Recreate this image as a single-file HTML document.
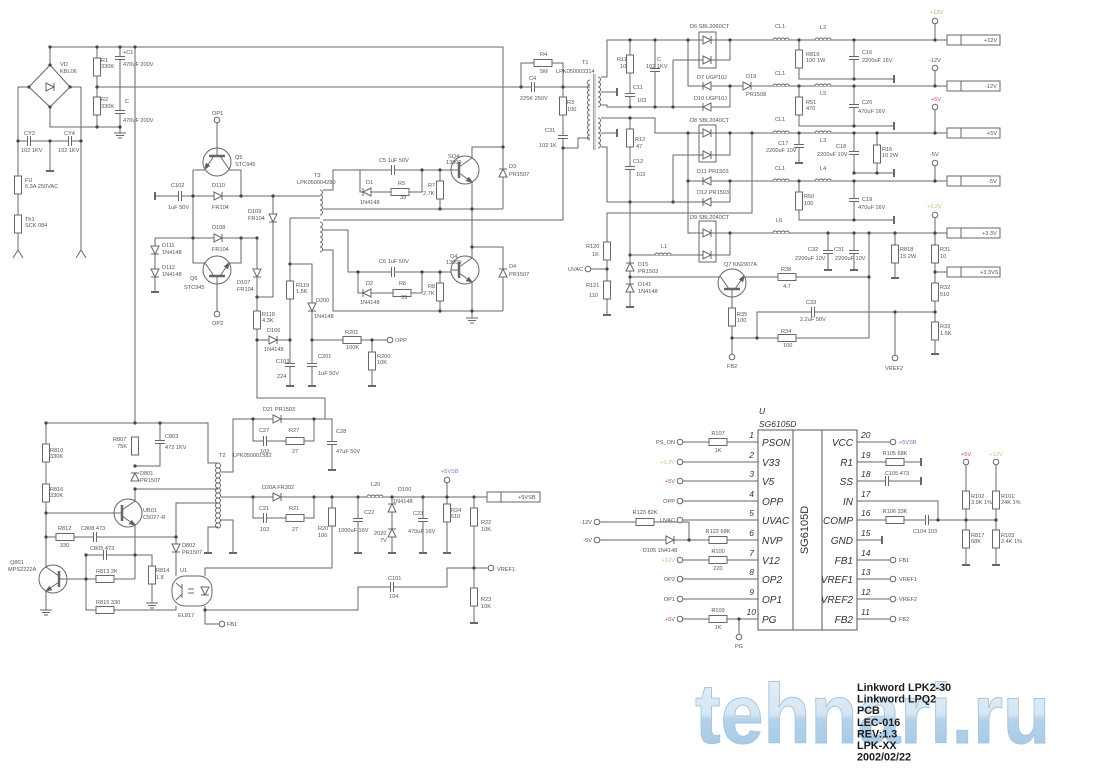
<!DOCTYPE html>
<html><head><meta charset="utf-8"><style>
html,body{margin:0;padding:0;background:#fff}
svg{display:block}
.t{font-family:"Liberation Sans",sans-serif;font-size:5.6px;fill:#555}
.p{font-family:"Liberation Sans",sans-serif;font-size:10px;font-style:italic;fill:#333}
.n{font-family:"Liberation Sans",sans-serif;font-size:8.5px;font-style:italic;fill:#333}
.ti{font-family:"Liberation Sans",sans-serif;font-size:10.8px;font-weight:bold;fill:#1c1c1c}
</style></head><body>
<svg width="1100" height="772" viewBox="0 0 1100 772" xmlns="http://www.w3.org/2000/svg">
<defs>
<g id="rv"><rect x="-3.5" y="-9" width="7" height="18" fill="#fff"/></g>
<g id="rh"><rect x="-9" y="-3.5" width="18" height="7" fill="#fff"/></g>
<g id="dr"><path d="M-4 -4L4 0L-4 4Z" fill="#fff"/><path d="M4 -4V4"/></g>
<g id="dl"><path d="M4 -4L-4 0L4 4Z" fill="#fff"/><path d="M-4 -4V4"/></g>
<g id="du"><path d="M-4 4L0 -4L4 4Z" fill="#fff"/><path d="M-4 -4H4"/></g>
<g id="dd"><path d="M-4 -4L0 4L4 -4Z" fill="#fff"/><path d="M-4 4H4"/></g>
<g id="ch"><rect x="-1.5" y="-2" width="3" height="4" fill="#fff" stroke="none"/><path d="M-1.5 -5V5M1.5 -5V5"/></g>
<g id="cv"><rect x="-2" y="-1.5" width="4" height="3" fill="#fff" stroke="none"/><path d="M-5 -1.5H5M-5 1.5H5"/></g>
<g id="lh"><rect x="-8" y="-3" width="16" height="3" fill="#fff" stroke="none"/><path d="M-8 0a2 2 0 0 1 4 0a2 2 0 0 1 4 0a2 2 0 0 1 4 0a2 2 0 0 1 4 0"/></g>
<g id="gh"><path d="M-4 0H4" stroke-width="2"/></g>
<g id="gv"><path d="M0 -4V4" stroke-width="2"/></g>
<g id="g3"><path d="M-6 0H6M-4 2.5H4M-2 5H2"/></g>
<g id="tm"><circle r="2.8" fill="#fff"/></g>
<g id="dt"><circle r="1.6" fill="#444" stroke="none"/></g>
<g id="npn"><circle r="14" fill="#fff"/><path d="M-14 0H-6"/><path d="M-6 -8V8" stroke-width="2.5"/><path d="M-6 -3L7 -12M-6 3L7 12"/><path d="M7 12l-5.5 -1.2l2.2 -3.2z" fill="#555"/></g>
<linearGradient id="lg" x1="0" y1="0" x2="0" y2="1">
<stop offset="0" stop-color="#e9f1f8"/><stop offset="0.5" stop-color="#d6e6f2"/><stop offset="0.56" stop-color="#b4d2ea"/><stop offset="1" stop-color="#a2c6e4"/>
</linearGradient>
</defs>

<!-- logo -->
<text x="695" y="743" font-family="Liberation Sans,sans-serif" font-weight="bold" font-size="84" textLength="355" lengthAdjust="spacingAndGlyphs" fill="url(#lg)" stroke="#a6c5de" stroke-width="1">tehnari.ru</text>

<g fill="none" stroke="#676767" stroke-width="1">
<path d="M50 47H503V209M472 247H503V311
M50 47V65M50 65L29 87L50 107L70 87Z
M29 87H18V250M70 87H81V250M50 107V127H120
M97 47V127M120 47V133M135 47V423
M97 87H563M521 87V63H563V87M563 87H590M563 87V148H578V138H590
M18 250l-5 8M18 250l5 8M81 250l-5 8M81 250l5 8
M18 141H81M50 141V171
M217 123V148M193 170H205M229 170H241
M193 170V263H205M229 263H241V238M241 170V196
M155 196H320M273 196V297H257M155 238H257M257 238V398H325V419M155 238V292
M217 284V311M290 218H320M290 218V386M290 264H312V386
M257 340H290M312 340H387M372 340V386
M323 190H333V170H451M360 170V192H422V170M440 170V209
M323 209H503M323 220H563V148
M323 230H348V272H451M358 272V293H422V272M440 272V311
M323 250H333V311H503M472 158V147H503M472 182V258M472 282V318
M601 77H607V40H699M601 92H617M601 105H607V107H730
M630 40V107M655 40V107M673 60V107M673 60H699
M688 40V86H947M716 40H947M716 60H730V40M730 86V107
M601 118H655V133H699M601 133H617M601 147H607V202H730
M630 118V307M673 155V202M673 155H699
M716 133H947M716 155H730V133
M688 133V233H699M688 181H730V202M730 181H947
M752 133V213H607V315
M716 233H947M716 255H730V233M630 255H699M630 277H720
M591 269H607M744 277H869M732 297V354
M732 338H869V233M757 338V312H935M895 312V355M935 233V354M935 272H947
M799 40V79H894M854 40V79M799 86V126H894M854 86V126
M799 133V163M854 133V173H894M877 133V173
M799 181V220H894M854 181V220
M828 233V270M854 233V270M895 233V278
M935 24V40M935 71V86M935 110V133M935 166V181M935 218V233
M46 423H208V463H218M46 423V567M46 591V610M46 513H114M46 537H176
M135 501V489M135 525V579M135 466H160V423M135 489H218
M176 537V503H218M176 537V576M135 555H86V610H176V606M135 555H152V603M67 579H135
M218 527H208V553M221 520H233V553
M221 472H233V419H332V470M253 419V441H314V419
M221 497H487M253 497V518H314V497M205 576V568H332V497
M358 497V553M392 497V553M423 497V553M447 483V553
M474 497V623M474 568H488
M205 606V610H358V587H447V568H474M205 610V624H219
M683 442H758M683 462H758M683 481H758M683 501H758M683 520H758M600 540H758M683 560H758M683 579H758M683 599H758M683 619H758M600 522H689V540M739 619V634
M857 442H890M857 462H921M857 481H921M857 501H938V520M857 520H996M857 540H882M857 560H890M857 579H890M857 599H890M857 619H890
M966 465V565M996 465V565"/>

<!-- transformer coils -->
<path d="M320 190a2.5 2.5 0 0 1 0 5a2.5 2.5 0 0 1 0 5a2.5 2.5 0 0 1 0 5a2.5 2.5 0 0 1 0 5a2.5 2.5 0 0 1 0 5M320 222a2.5 2.5 0 0 1 0 5a2.5 2.5 0 0 1 0 5a2.5 2.5 0 0 1 0 5a2.5 2.5 0 0 1 0 5a2.5 2.5 0 0 1 0 5a2.5 2.5 0 0 1 0 5"/>
<path d="M590 80a2.5 2.5 0 0 0 0 5a2.5 2.5 0 0 0 0 5a2.5 2.5 0 0 0 0 5a2.5 2.5 0 0 0 0 5a2.5 2.5 0 0 0 0 5a2.5 2.5 0 0 0 0 5a2.5 2.5 0 0 0 0 5a2.5 2.5 0 0 0 0 5a2.5 2.5 0 0 0 0 5a2.5 2.5 0 0 0 0 5a2.5 2.5 0 0 0 0 5a2.5 2.5 0 0 0 0 5"/>
<path d="M598 77a2.5 2.5 0 0 1 0 5a2.5 2.5 0 0 1 0 5a2.5 2.5 0 0 1 0 5a2.5 2.5 0 0 1 0 5a2.5 2.5 0 0 1 0 5a2.5 2.5 0 0 1 0 5M598 118a2.5 2.5 0 0 1 0 5a2.5 2.5 0 0 1 0 5a2.5 2.5 0 0 1 0 5a2.5 2.5 0 0 1 0 5a2.5 2.5 0 0 1 0 5a2.5 2.5 0 0 1 0 5"/>
<path d="M593.5 74V150M595 74V150" stroke-width="0.6"/>
<path d="M218 463a2.5 2.5 0 0 1 0 5a2.5 2.5 0 0 1 0 5a2.5 2.5 0 0 1 0 5a2.5 2.5 0 0 1 0 5a2.5 2.5 0 0 1 0 5a2.5 2.5 0 0 1 0 5a2.5 2.5 0 0 1 0 5a2.5 2.5 0 0 1 0 5a2.5 2.5 0 0 1 0 5a2.5 2.5 0 0 1 0 5a2.5 2.5 0 0 1 0 5a2.5 2.5 0 0 1 0 5a2.5 2.5 0 0 1 0 5"/>
<path d="M218 463a2.5 2.5 0 0 0 0 5a2.5 2.5 0 0 0 0 5a2.5 2.5 0 0 0 0 5a2.5 2.5 0 0 0 0 5a2.5 2.5 0 0 0 0 5a2.5 2.5 0 0 0 0 5a2.5 2.5 0 0 0 0 5a2.5 2.5 0 0 0 0 5a2.5 2.5 0 0 0 0 5a2.5 2.5 0 0 0 0 5a2.5 2.5 0 0 0 0 5a2.5 2.5 0 0 0 0 5a2.5 2.5 0 0 0 0 5"/>

<!-- diode boxes & connectors -->
<rect x="699" y="32" width="17" height="36" fill="#fff"/>
<rect x="699" y="125" width="17" height="37" fill="#fff"/>
<rect x="699" y="221" width="17" height="41" fill="#fff"/>
<path d="M699 40H716M699 60H716M699 133H716M699 155H716M699 233H716M699 255H716"/>
<g fill="#fff">
<rect x="947" y="35" width="53" height="10"/><rect x="947" y="81" width="53" height="10"/><rect x="947" y="128" width="53" height="10"/>
<rect x="947" y="176" width="53" height="10"/><rect x="947" y="228" width="53" height="10"/><rect x="947" y="267" width="53" height="10"/>
<rect x="487" y="492" width="53" height="10"/>
</g>
<path d="M961 35V45M961 81V91M961 128V138M961 176V186M961 228V238M961 267V277M501 492V502"/>

<!-- chip -->
<rect x="758" y="430" width="99" height="200" fill="#fff" stroke="#555"/>
<path d="M793 430V630M822 430V630" stroke="#555"/>

<!-- optocoupler -->
<rect x="172" y="576" width="40" height="30" rx="13" fill="#fff"/>
<path d="M182 584V598M182 588L176 583M182 594L176 600M188 589H194M188 593H194" />
<use href="#dd" x="205" y="591"/>

<!-- transistors -->
<use href="#npn" transform="translate(465,170)"/>
<use href="#npn" transform="translate(465,270)"/>
<use href="#npn" transform="translate(128,513)"/>
<use href="#npn" transform="translate(53,579) scale(-1,1)"/>
<use href="#npn" transform="translate(217,162) rotate(90)"/>
<use href="#npn" transform="translate(217,270) rotate(-90)"/>
<use href="#npn" transform="translate(732,283) rotate(-90)"/>

<!-- bridge diode -->
<use href="#dr" x="50" y="87"/>

<!-- resistors vertical -->
<use href="#rv" x="97" y="67"/><use href="#rv" x="97" y="106"/><use href="#rv" x="18" y="185"/><use href="#rv" x="18" y="224"/>
<use href="#rv" x="563" y="106"/><use href="#rv" x="630" y="64"/><use href="#rv" x="630" y="138"/><use href="#rv" x="607" y="251"/><use href="#rv" x="607" y="290"/>
<use href="#rv" x="440" y="190"/><use href="#rv" x="440" y="292"/><use href="#rv" x="257" y="320"/><use href="#rv" x="290" y="290"/><use href="#rv" x="372" y="361"/>
<use href="#rv" x="799" y="59"/><use href="#rv" x="799" y="106"/><use href="#rv" x="877" y="154"/><use href="#rv" x="799" y="201"/>
<use href="#rv" x="895" y="254"/><use href="#rv" x="935" y="254"/><use href="#rv" x="935" y="292"/><use href="#rv" x="935" y="331"/><use href="#rv" x="732" y="317"/>
<use href="#rv" x="46" y="453"/><use href="#rv" x="46" y="493"/><use href="#rv" x="135" y="446"/><use href="#rv" x="152" y="575"/>
<use href="#rv" x="332" y="517"/><use href="#rv" x="447" y="513"/><use href="#rv" x="474" y="517"/><use href="#rv" x="474" y="597"/>
<use href="#rv" x="966" y="500"/><use href="#rv" x="996" y="500"/><use href="#rv" x="966" y="539"/><use href="#rv" x="996" y="539"/>
<!-- resistors horizontal -->
<use href="#rh" x="543" y="63"/><use href="#rh" x="400" y="192"/><use href="#rh" x="402" y="293"/><use href="#rh" x="352" y="340"/>
<use href="#rh" x="787" y="277"/><use href="#rh" x="787" y="338"/><use href="#rh" x="65" y="537"/><use href="#rh" x="105" y="579"/><use href="#rh" x="105" y="610"/>
<use href="#rh" x="295" y="441"/><use href="#rh" x="295" y="518"/>
<use href="#rh" x="718" y="442"/><use href="#rh" x="718" y="540"/><use href="#rh" x="718" y="560"/><use href="#rh" x="718" y="619"/><use href="#rh" x="645" y="522"/>
<use href="#rh" x="895" y="462"/><use href="#rh" x="895" y="520"/>

<!-- diodes -->
<use href="#du" x="503" y="173"/><use href="#du" x="503" y="273"/>
<use href="#dl" x="367" y="192"/><use href="#dl" x="367" y="293"/>
<use href="#dr" x="218" y="196"/><use href="#dr" x="218" y="238"/>
<use href="#dd" x="273" y="218"/><use href="#dd" x="257" y="273"/>
<use href="#dd" x="155" y="250"/><use href="#dd" x="155" y="273"/>
<use href="#dr" x="273" y="340"/><use href="#dd" x="312" y="307"/>
<use href="#dr" x="707" y="40"/><use href="#dr" x="707" y="60"/><use href="#dl" x="707" y="86"/><use href="#dl" x="707" y="107"/>
<use href="#dr" x="707" y="133"/><use href="#dr" x="707" y="155"/><use href="#dl" x="707" y="181"/><use href="#dl" x="707" y="202"/>
<use href="#dr" x="707" y="233"/><use href="#dr" x="707" y="255"/><use href="#dr" x="747" y="86"/>
<use href="#du" x="630" y="267"/><use href="#du" x="630" y="288"/>
<use href="#du" x="135" y="477"/><use href="#dd" x="176" y="548"/>
<use href="#dr" x="277" y="419"/><use href="#dr" x="277" y="497"/>
<use href="#du" x="392" y="508"/><use href="#du" x="392" y="533"/>
<use href="#dr" x="670" y="540"/>

<!-- capacitors -->
<use href="#ch" x="29" y="141"/><use href="#ch" x="70" y="141"/><use href="#ch" x="180" y="196"/><use href="#ch" x="393" y="170"/><use href="#ch" x="393" y="272"/>
<use href="#ch" x="533" y="87"/><use href="#ch" x="265" y="441"/><use href="#ch" x="265" y="518"/><use href="#ch" x="95" y="537"/><use href="#ch" x="105" y="555"/>
<use href="#ch" x="392" y="587"/><use href="#ch" x="813" y="312"/><use href="#ch" x="887" y="481"/><use href="#ch" x="927" y="520"/>
<use href="#cv" x="120" y="58"/><use href="#cv" x="120" y="112"/><use href="#cv" x="563" y="137"/><use href="#cv" x="630" y="95"/><use href="#cv" x="655" y="70"/>
<use href="#cv" x="630" y="168"/><use href="#cv" x="290" y="365"/><use href="#cv" x="312" y="365"/><use href="#cv" x="854" y="58"/><use href="#cv" x="854" y="106"/>
<use href="#cv" x="799" y="146"/><use href="#cv" x="854" y="153"/><use href="#cv" x="854" y="200"/><use href="#cv" x="828" y="252"/><use href="#cv" x="854" y="252"/>
<use href="#cv" x="160" y="442"/><use href="#cv" x="332" y="443"/><use href="#cv" x="358" y="520"/><use href="#cv" x="423" y="520"/>

<!-- inductors -->
<use href="#lh" x="781" y="40"/><use href="#lh" x="781" y="86"/><use href="#lh" x="781" y="133"/><use href="#lh" x="781" y="181"/>
<use href="#lh" x="823" y="40"/><use href="#lh" x="823" y="86"/><use href="#lh" x="823" y="133"/><use href="#lh" x="823" y="181"/>
<use href="#lh" x="781" y="233"/><use href="#lh" x="663" y="255"/><use href="#lh" x="375" y="497"/>

<!-- grounds -->
<use href="#g3" x="120" y="133"/><use href="#g3" x="472" y="318"/><use href="#g3" x="152" y="603"/><use href="#g3" x="46" y="610"/>
<use href="#gh" x="50" y="171"/><use href="#gh" x="155" y="292"/><use href="#gh" x="290" y="386"/><use href="#gh" x="312" y="386"/><use href="#gh" x="372" y="386"/>
<use href="#gh" x="630" y="307"/><use href="#gh" x="607" y="315"/><use href="#gh" x="799" y="163"/><use href="#gh" x="828" y="270"/><use href="#gh" x="854" y="270"/>
<use href="#gh" x="895" y="278"/><use href="#gh" x="935" y="354"/><use href="#gh" x="208" y="553"/><use href="#gh" x="233" y="553"/><use href="#gh" x="332" y="470"/>
<use href="#gh" x="358" y="553"/><use href="#gh" x="392" y="553"/><use href="#gh" x="423" y="553"/><use href="#gh" x="447" y="553"/><use href="#gh" x="474" y="623"/>
<use href="#gh" x="966" y="565"/><use href="#gh" x="996" y="565"/>
<use href="#gv" x="155" y="196"/><use href="#gv" x="617" y="92"/><use href="#gv" x="617" y="133"/><use href="#gv" x="894" y="79"/><use href="#gv" x="894" y="126"/>
<use href="#gv" x="894" y="173"/><use href="#gv" x="894" y="220"/><use href="#gv" x="921" y="462"/><use href="#gv" x="921" y="481"/><use href="#gv" x="882" y="540"/>

<!-- terminals -->
<use href="#tm" x="217" y="120"/><use href="#tm" x="217" y="314"/><use href="#tm" x="390" y="340"/><use href="#tm" x="588" y="269"/><use href="#tm" x="732" y="357"/>
<use href="#tm" x="895" y="358"/><use href="#tm" x="935" y="21"/><use href="#tm" x="935" y="68"/><use href="#tm" x="935" y="107"/><use href="#tm" x="935" y="163"/>
<use href="#tm" x="935" y="215"/><use href="#tm" x="447" y="480"/><use href="#tm" x="491" y="568"/><use href="#tm" x="222" y="624"/>
<use href="#tm" x="680" y="442"/><use href="#tm" x="680" y="462"/><use href="#tm" x="680" y="481"/><use href="#tm" x="680" y="501"/><use href="#tm" x="680" y="520"/>
<use href="#tm" x="680" y="560"/><use href="#tm" x="680" y="579"/><use href="#tm" x="680" y="599"/><use href="#tm" x="680" y="619"/>
<use href="#tm" x="597" y="522"/><use href="#tm" x="597" y="540"/><use href="#tm" x="739" y="637"/>
<use href="#tm" x="893" y="442"/><use href="#tm" x="893" y="560"/><use href="#tm" x="893" y="579"/><use href="#tm" x="893" y="599"/><use href="#tm" x="893" y="619"/>
<use href="#tm" x="966" y="462"/><use href="#tm" x="996" y="462"/>
</g>

<!-- dots -->
<g>
<use href="#dt" x="50" y="47"/><use href="#dt" x="97" y="47"/><use href="#dt" x="120" y="47"/><use href="#dt" x="135" y="47"/><use href="#dt" x="97" y="87"/>
<use href="#dt" x="97" y="127"/><use href="#dt" x="120" y="127"/><use href="#dt" x="50" y="65"/><use href="#dt" x="29" y="87"/><use href="#dt" x="70" y="87"/><use href="#dt" x="50" y="107"/>
<use href="#dt" x="18" y="141"/><use href="#dt" x="50" y="141"/><use href="#dt" x="81" y="141"/><use href="#dt" x="521" y="87"/><use href="#dt" x="563" y="87"/><use href="#dt" x="563" y="148"/>
<use href="#dt" x="193" y="196"/><use href="#dt" x="241" y="196"/><use href="#dt" x="273" y="196"/><use href="#dt" x="193" y="238"/><use href="#dt" x="241" y="238"/><use href="#dt" x="257" y="238"/>
<use href="#dt" x="257" y="297"/><use href="#dt" x="257" y="340"/><use href="#dt" x="290" y="340"/><use href="#dt" x="290" y="264"/><use href="#dt" x="312" y="340"/><use href="#dt" x="372" y="340"/>
<use href="#dt" x="422" y="170"/><use href="#dt" x="440" y="170"/><use href="#dt" x="440" y="209"/><use href="#dt" x="472" y="209"/><use href="#dt" x="503" y="147"/><use href="#dt" x="472" y="247"/>
<use href="#dt" x="358" y="272"/><use href="#dt" x="422" y="272"/><use href="#dt" x="440" y="272"/><use href="#dt" x="440" y="311"/><use href="#dt" x="472" y="311"/>
<use href="#dt" x="630" y="40"/><use href="#dt" x="655" y="40"/><use href="#dt" x="688" y="40"/><use href="#dt" x="730" y="40"/><use href="#dt" x="630" y="107"/><use href="#dt" x="655" y="107"/>
<use href="#dt" x="673" y="107"/><use href="#dt" x="730" y="86"/><use href="#dt" x="630" y="118"/><use href="#dt" x="688" y="133"/><use href="#dt" x="730" y="133"/><use href="#dt" x="752" y="133"/>
<use href="#dt" x="630" y="202"/><use href="#dt" x="673" y="202"/><use href="#dt" x="730" y="181"/><use href="#dt" x="688" y="181"/><use href="#dt" x="730" y="233"/><use href="#dt" x="630" y="255"/>
<use href="#dt" x="630" y="277"/><use href="#dt" x="607" y="269"/>
<use href="#dt" x="799" y="40"/><use href="#dt" x="854" y="40"/><use href="#dt" x="935" y="40"/><use href="#dt" x="799" y="86"/><use href="#dt" x="854" y="86"/><use href="#dt" x="935" y="86"/>
<use href="#dt" x="854" y="79"/><use href="#dt" x="854" y="126"/><use href="#dt" x="799" y="133"/><use href="#dt" x="854" y="133"/><use href="#dt" x="877" y="133"/><use href="#dt" x="935" y="133"/>
<use href="#dt" x="877" y="173"/><use href="#dt" x="854" y="173"/><use href="#dt" x="799" y="181"/><use href="#dt" x="854" y="181"/><use href="#dt" x="935" y="181"/><use href="#dt" x="854" y="220"/>
<use href="#dt" x="828" y="233"/><use href="#dt" x="854" y="233"/><use href="#dt" x="869" y="233"/><use href="#dt" x="895" y="233"/><use href="#dt" x="935" y="233"/><use href="#dt" x="935" y="272"/>
<use href="#dt" x="869" y="277"/><use href="#dt" x="732" y="338"/><use href="#dt" x="757" y="338"/><use href="#dt" x="895" y="312"/><use href="#dt" x="935" y="312"/>
<use href="#dt" x="46" y="423"/><use href="#dt" x="135" y="423"/><use href="#dt" x="160" y="423"/><use href="#dt" x="135" y="466"/><use href="#dt" x="135" y="489"/><use href="#dt" x="46" y="513"/>
<use href="#dt" x="46" y="537"/><use href="#dt" x="176" y="537"/><use href="#dt" x="135" y="555"/><use href="#dt" x="86" y="555"/><use href="#dt" x="86" y="579"/>
<use href="#dt" x="253" y="419"/><use href="#dt" x="314" y="419"/><use href="#dt" x="253" y="497"/><use href="#dt" x="314" y="497"/><use href="#dt" x="332" y="497"/><use href="#dt" x="358" y="497"/>
<use href="#dt" x="392" y="497"/><use href="#dt" x="423" y="497"/><use href="#dt" x="447" y="497"/><use href="#dt" x="474" y="497"/><use href="#dt" x="474" y="568"/><use href="#dt" x="205" y="610"/>
<use href="#dt" x="689" y="540"/><use href="#dt" x="739" y="619"/><use href="#dt" x="938" y="520"/><use href="#dt" x="966" y="520"/><use href="#dt" x="996" y="520"/>
</g>

<!-- labels -->
<g class="t">
<text x="60" y="66">VD</text><text x="60" y="73">KBL06</text>
<text x="101" y="62">R1</text><text x="101" y="68">330K</text>
<text x="101" y="101">R2</text><text x="101" y="108">330K</text>
<text x="123" y="54">+C1</text><text x="123" y="66">470uF 200V</text>
<text x="125" y="103">C</text><text x="123" y="122">470uF 200V</text>
<text x="24" y="135">CY3</text><text x="21" y="152">102 1KV</text>
<text x="64" y="135">CY4</text><text x="58" y="152">102 1KV</text>
<text x="25" y="182">FU</text><text x="25" y="188">6.3A 250VAC</text>
<text x="25" y="221">Th1</text><text x="25" y="227">SCK 084</text>
<text x="212" y="115">OP1</text>
<text x="235" y="159">Q5</text><text x="235" y="166">STC945</text>
<text x="171" y="187">C102</text><text x="168" y="209">1uF 50V</text>
<text x="212" y="187">D110</text><text x="212" y="209">FR104</text>
<text x="248" y="213">D109</text><text x="248" y="220">FR104</text>
<text x="212" y="229">D108</text><text x="212" y="251">FR104</text>
<text x="162" y="247">D111</text><text x="162" y="254">1N4148</text>
<text x="162" y="269">D112</text><text x="162" y="276">1N4148</text>
<text x="190" y="280">Q6</text><text x="184" y="289">STC945</text>
<text x="212" y="325">OP2</text>
<text x="237" y="284">D107</text><text x="237" y="291">FR104</text>
<text x="262" y="316">R118</text><text x="262" y="322">4.3K</text>
<text x="296" y="287">R119</text><text x="296" y="293">1.5K</text>
<text x="316" y="302">D200</text><text x="314" y="318">1N4148</text>
<text x="267" y="332">D106</text><text x="264" y="351">1N4148</text>
<text x="345" y="334">R201</text><text x="346" y="349">100K</text>
<text x="377" y="358">R200</text><text x="377" y="364">10K</text>
<text x="395" y="342">OPP</text>
<text x="276" y="363">C103</text><text x="277" y="378">224</text>
<text x="318" y="358">C201</text><text x="318" y="375">1uF 50V</text>
<text x="314" y="177">T3</text><text x="297" y="184">LPK050004280</text>
<text x="379" y="162">C5  1uF 50V</text>
<text x="366" y="184">D1</text><text x="360" y="204">1N4148</text>
<text x="398" y="185">R5</text><text x="400" y="199">39</text>
<text x="428" y="187">R7</text><text x="423" y="195">2.7K</text>
<text x="448" y="158">SQ4</text><text x="446" y="164">13009</text>
<text x="509" y="168">D3</text><text x="509" y="176">PR1507</text>
<text x="379" y="263">C6  1uF 50V</text>
<text x="366" y="285">D2</text><text x="360" y="304">1N4148</text>
<text x="399" y="285">R6</text><text x="401" y="299">39</text>
<text x="428" y="288">R8</text><text x="423" y="295">2.7K</text>
<text x="450" y="258">Q4</text><text x="446" y="264">13009</text>
<text x="509" y="268">D4</text><text x="509" y="276">PR1507</text>
<text x="540" y="56">R4</text><text x="540" y="73">5M</text>
<text x="529" y="80">C4</text><text x="520" y="100">225K 250V</text>
<text x="582" y="64">T1</text><text x="556" y="73">LPK050003314</text>
<text x="567" y="104">R3</text><text x="567" y="111">100</text>
<text x="545" y="132">C31</text><text x="539" y="147">102 1K</text>
<text x="617" y="61">R11</text><text x="620" y="68">10</text>
<text x="657" y="61">C</text><text x="646" y="68">102 1KV</text>
<text x="633" y="89">C11</text><text x="637" y="102">103</text>
<text x="635" y="141">R12</text><text x="636" y="148">47</text>
<text x="633" y="163">C12</text><text x="636" y="176">103</text>
<text x="690" y="28">D6 SBL2060CT</text>
<text x="697" y="79">D7 UGP10J</text>
<text x="694" y="100">D10 UGP10J</text>
<text x="746" y="78">D19</text><text x="746" y="96">PR1508</text>
<text x="690" y="122">D8 SBL2040CT</text>
<text x="697" y="173">D11 PR1503</text>
<text x="697" y="194">D12 PR1503</text>
<text x="690" y="219">D9 SBL2040CT</text>
<text x="661" y="248">L1</text>
<text x="586" y="248">R120</text><text x="592" y="256">1K</text>
<text x="586" y="287">R121</text><text x="589" y="297">110</text>
<text x="568" y="271">UVAC</text>
<text x="638" y="266">D15</text><text x="638" y="273">PR1503</text>
<text x="638" y="286">D141</text><text x="638" y="293">1N4148</text>
<text x="724" y="266">Q7  KN2907A</text>
<text x="781" y="271">R38</text><text x="783" y="288">4.7</text>
<text x="737" y="316">R35</text><text x="737" y="322">100</text>
<text x="727" y="368">FB2</text>
<text x="781" y="333">R34</text><text x="783" y="347">100</text>
<text x="806" y="304">C33</text><text x="800" y="321">2.2uF 50V</text>
<text x="885" y="370">VREF2</text>
<text x="775" y="28">CL1</text><text x="820" y="29">L2</text>
<text x="806" y="56">R819</text><text x="806" y="62">100 1W</text>
<text x="862" y="54">C16</text><text x="862" y="62">2200uF 16V</text>
<text x="930" y="14" fill="#c9a766">+12V</text>
<text x="929" y="62">-12V</text>
<text x="775" y="75">CL1</text><text x="820" y="95">L5</text>
<text x="806" y="104">R51</text><text x="806" y="110">470</text>
<text x="862" y="104">C20</text><text x="858" y="113">470uF 16V</text>
<text x="931" y="101" fill="#c0504d">+5V</text>
<text x="775" y="121">CL1</text><text x="820" y="142">L3</text>
<text x="778" y="145">C17</text><text x="766" y="152">2200uF 10V</text>
<text x="836" y="148">C18</text><text x="817" y="156">2200uF 10V</text>
<text x="882" y="151">R16</text><text x="882" y="157">10 2W</text>
<text x="930" y="156">-5V</text>
<text x="775" y="170">CL1</text><text x="820" y="170">L4</text>
<text x="804" y="198">R50</text><text x="804" y="205">100</text>
<text x="862" y="201">C19</text><text x="858" y="209">470uF 16V</text>
<text x="927" y="208" fill="#c9c27a">+3.3V</text>
<text x="776" y="222">L6</text>
<text x="808" y="251">C32</text><text x="795" y="260">2200uF 10V</text>
<text x="834" y="251">C31</text><text x="835" y="260">2200uF 10V</text>
<text x="900" y="251">R818</text><text x="900" y="258">15 2W</text>
<text x="940" y="251">R31</text><text x="940" y="258">10</text>
<text x="940" y="289">R32</text><text x="940" y="296">510</text>
<text x="940" y="328">R33</text><text x="940" y="335">1.5K</text>
<text x="984" y="42">+12V</text><text x="985" y="88">-12V</text><text x="987" y="135">+5V</text>
<text x="988" y="183">-5V</text><text x="982" y="235">+3.3V</text><text x="980" y="274">+3.3VS</text>
<text x="50" y="452">R810</text><text x="50" y="458">330K</text>
<text x="50" y="491">R816</text><text x="50" y="497">330K</text>
<text x="113" y="441">R807</text><text x="117" y="448">75K</text>
<text x="165" y="438">C803</text><text x="165" y="449">472 1KV</text>
<text x="140" y="475">D801</text><text x="140" y="482">PR1507</text>
<text x="143" y="512">UB01</text><text x="143" y="519">C5027-R</text>
<text x="58" y="530">R812</text><text x="60" y="547">330</text>
<text x="81" y="530">C808  473</text>
<text x="90" y="550">C805  473</text>
<text x="96" y="573">R813  2K</text>
<text x="156" y="572">R814</text><text x="156" y="579">1.8</text>
<text x="96" y="604">R815  330</text>
<text x="10" y="564">Q801</text><text x="8" y="571">MPS2222A</text>
<text x="182" y="547">D802</text><text x="182" y="554">PR1507</text>
<text x="180" y="572">U1</text><text x="178" y="617">EL817</text>
<text x="227" y="626">FB1</text>
<text x="219" y="457">T2</text><text x="233" y="457">LPK050001582</text>
<text x="263" y="411">D21  PR1503</text>
<text x="259" y="432">C27</text><text x="260" y="453">102</text>
<text x="289" y="432">R27</text><text x="292" y="453">27</text>
<text x="336" y="433">C28</text><text x="336" y="453">47uF 50V</text>
<text x="262" y="489">D20A  FR302</text>
<text x="259" y="510">C21</text><text x="260" y="531">102</text>
<text x="289" y="510">R21</text><text x="292" y="531">27</text>
<text x="318" y="530">R20</text><text x="318" y="537">100</text>
<text x="364" y="514">C22</text><text x="338" y="532">1000uF 16V</text>
<text x="371" y="486">L20</text>
<text x="398" y="491">D100</text><text x="393" y="503">1N4148</text>
<text x="374" y="535">2020</text><text x="380" y="542">7V</text>
<text x="413" y="515">C23</text><text x="408" y="533">470uF 16V</text>
<text x="451" y="512">R24</text><text x="451" y="518">510</text>
<text x="441" y="473" fill="#a070c0">+5VSB</text>
<text x="481" y="524">R22</text><text x="481" y="531">10K</text>
<text x="497" y="571">VREF1</text>
<text x="481" y="601">R23</text><text x="481" y="608">10K</text>
<text x="388" y="580">C101</text><text x="389" y="598">104</text>
<text x="518" y="499">+5VSB</text>
<text x="675" y="444" text-anchor="end">PS_ON</text>
<text x="675" y="464" text-anchor="end" fill="#c9c27a">+3.3V</text>
<text x="675" y="483" text-anchor="end" fill="#c0504d">+5V</text>
<text x="675" y="503" text-anchor="end">OPP</text>
<text x="675" y="522" text-anchor="end">UVAC</text>
<text x="675" y="562" text-anchor="end" fill="#c9c27a">+12V</text>
<text x="675" y="581" text-anchor="end">OP2</text>
<text x="675" y="601" text-anchor="end">OP1</text>
<text x="675" y="621" text-anchor="end" fill="#c0504d">+5V</text>
<text x="592" y="524" text-anchor="end">-12V</text>
<text x="592" y="542" text-anchor="end">-5V</text>
<text x="718" y="435" text-anchor="middle">R107</text><text x="718" y="452" text-anchor="middle">1K</text>
<text x="718" y="533" text-anchor="middle">R122  68K</text>
<text x="718" y="553" text-anchor="middle">R100</text><text x="718" y="570" text-anchor="middle">220</text>
<text x="718" y="612" text-anchor="middle">R109</text><text x="718" y="629" text-anchor="middle">1K</text>
<text x="645" y="514" text-anchor="middle">R123  82K</text>
<text x="660" y="552" text-anchor="middle">D105  1N4148</text>
<text x="739" y="648" text-anchor="middle">PG</text>
<text x="899" y="444" fill="#7a6ad0">+5VSB</text>
<text x="895" y="455" text-anchor="middle">R105   68K</text>
<text x="897" y="475" text-anchor="middle">C105   473</text>
<text x="895" y="513" text-anchor="middle">R106   33K</text>
<text x="925" y="533" text-anchor="middle">C104   103</text>
<text x="899" y="562">FB1</text><text x="899" y="581">VREF1</text><text x="899" y="601">VREF2</text><text x="899" y="621">FB2</text>
<text x="966" y="456" text-anchor="middle" fill="#c0504d">+5V</text>
<text x="996" y="456" text-anchor="middle" fill="#c9c27a">+12V</text>
<text x="971" y="498">R102</text><text x="971" y="504">3.9K 1%</text>
<text x="1001" y="498">R101</text><text x="1001" y="504">24K 1%</text>
<text x="971" y="537">R817</text><text x="971" y="543">68K</text>
<text x="1001" y="537">R103</text><text x="1001" y="543">2.4K 1%</text>
</g>

<!-- chip text -->
<g>
<text class="n" x="759" y="414">U</text>
<text class="n" x="759" y="427">SG6105D</text>
<text class="p" x="808" y="530" transform="rotate(-90 808 530)" text-anchor="middle" style="font-style:normal;font-size:11px">SG6105D</text>
<g class="n" text-anchor="end">
<text x="754" y="438">1</text><text x="754" y="458">2</text><text x="754" y="477">3</text><text x="754" y="497">4</text><text x="754" y="516">5</text>
<text x="754" y="536">6</text><text x="754" y="556">7</text><text x="754" y="575">8</text><text x="754" y="595">9</text><text x="756" y="615">10</text>
</g>
<g class="n">
<text x="861" y="438">20</text><text x="861" y="458">19</text><text x="861" y="477">18</text><text x="861" y="497">17</text><text x="861" y="516">16</text>
<text x="861" y="536">15</text><text x="861" y="556">14</text><text x="861" y="575">13</text><text x="861" y="595">12</text><text x="861" y="615">11</text>
</g>
<g class="p">
<text x="762" y="446">PSON</text><text x="762" y="466">V33</text><text x="762" y="485">V5</text><text x="762" y="505">OPP</text><text x="762" y="524">UVAC</text>
<text x="762" y="544">NVP</text><text x="762" y="564">V12</text><text x="762" y="583">OP2</text><text x="762" y="603">OP1</text><text x="762" y="623">PG</text>
</g>
<g class="p" text-anchor="end">
<text x="853" y="446">VCC</text><text x="853" y="466">R1</text><text x="853" y="485">SS</text><text x="853" y="505">IN</text><text x="853" y="524">COMP</text>
<text x="853" y="544">GND</text><text x="853" y="564">FB1</text><text x="853" y="583">VREF1</text><text x="853" y="603">VREF2</text><text x="853" y="623">FB2</text>
</g>
</g>

<!-- title block -->
<g class="ti">
<text x="857" y="691">Linkword LPK2-30</text>
<text x="857" y="702.6">Linkword LPQ2</text>
<text x="857" y="714.2">PCB</text>
<text x="857" y="725.8">LEC-016</text>
<text x="857" y="737.4">REV:1.3</text>
<text x="857" y="749">LPK-XX</text>
<text x="857" y="760.6">2002/02/22</text>
</g>
</svg>
</body></html>
